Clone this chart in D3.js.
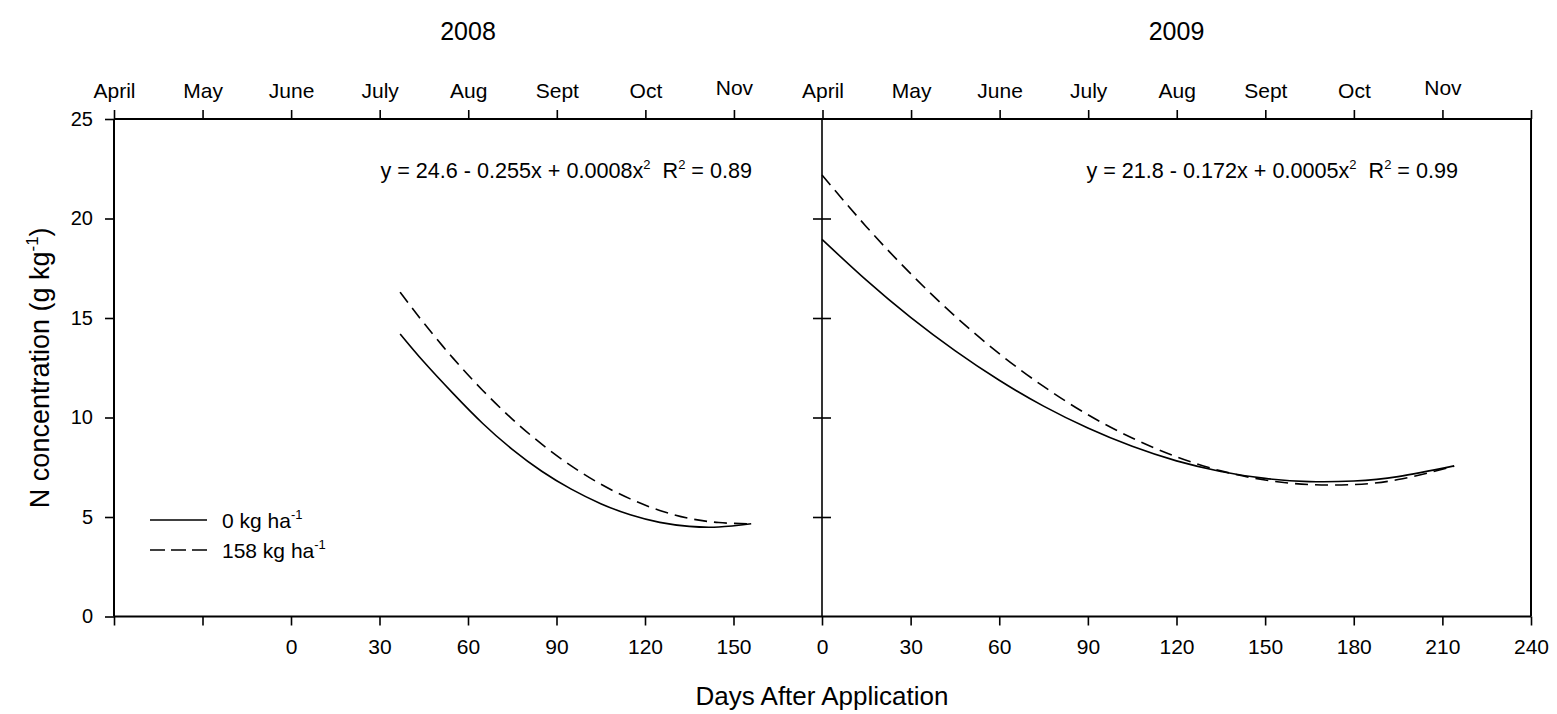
<!DOCTYPE html>
<html>
<head>
<meta charset="utf-8">
<script src="https://cdn.jsdelivr.net/npm/d3@7"></script>
<style>
  body { margin: 0; background: #fff; }
  svg { display: block; font-family: "Liberation Sans", Arial, sans-serif; }
</style>
</head>
<body>
<script>
// month labels across the top (two seasons)
const months = ["April", "May", "June", "July", "Aug", "Sept", "Oct", "Nov",
                "April", "May", "June", "July", "Aug", "Sept", "Oct", "Nov"];
const dayTicks2008 = [-60, -30, 0, 30, 60, 90, 120, 150];
const dayTicks2009 = [0, 30, 60, 90, 120, 150, 180, 210, 240];
const yTicks = [0, 5, 10, 15, 20, 25];

// 2008 fitted curves (days after application, g/kg)
const days2008   = [37, 45, 55, 65, 75, 85, 95, 105, 115, 125, 135, 145, 156];
const zero2008   = [14.2, 12.8, 11.2, 9.7, 8.4, 7.3, 6.4, 5.67, 5.11, 4.73, 4.53, 4.5, 4.66];
const high2008   = [16.3, 14.75, 12.97, 11.36, 9.92, 8.66, 7.57, 6.65, 5.91, 5.33, 4.93, 4.72, 4.66];

// 2009 fitted curves
const days2009   = [0, 15, 30, 45, 60, 75, 90, 105, 120, 135, 150, 165, 180, 195, 214];
const zero2009   = [18.95, 16.9, 15.03, 13.36, 11.87, 10.57, 9.47, 8.55, 7.82, 7.29, 6.94, 6.78, 6.81, 7.03, 7.57];
const high2009   = [22.19, 19.59, 17.23, 15.1, 13.21, 11.56, 10.14, 8.97, 8.03, 7.32, 6.86, 6.63, 6.63, 6.88, 7.55];

(function() {
    const width = 1557, height = 714;
    const xLeft = 114, xMid = 822, xRight = 1531, yTop = 119, yBottom = 616.5;
    const fs = 21;

    const svg = d3.select("body").append("svg")
        .attr("width", width)
        .attr("height", height);

    const xL = d3.scaleLinear().domain([-60, 180]).range([xLeft, xMid]);
    const xR = d3.scaleLinear().domain([0, 240]).range([xMid, xRight]);
    const y = d3.scaleLinear().domain([0, 25]).range([yBottom, yTop]);
    const mScale = d3.scaleLinear().domain([0, 16]).range([xLeft, xRight]);

    function styleAxis(g) {
        g.select(".domain").remove();
        g.selectAll(".tick line").attr("stroke", "#000").attr("stroke-width", 1.6);
        g.selectAll(".tick text")
            .attr("fill", "#000")
            .style("font-size", fs + "px")
            .style("font-family", '"Liberation Sans", Arial, sans-serif');
    }

    // top month axis
    svg.append("g")
        .attr("transform", `translate(0,${yTop})`)
        .call(d3.axisTop(mScale).tickValues(d3.range(17)).tickSize(9).tickPadding(12)
            .tickFormat(i => months[i] || ""))
        .call(styleAxis)
        .call(g => g.selectAll(".tick text").attr("dy", i => months[i] === "Nov" ? "-3" : "0"));

    // bottom axes
    svg.append("g")
        .attr("transform", `translate(0,${yBottom})`)
        .call(d3.axisBottom(xL).tickValues(dayTicks2008).tickSize(9).tickPadding(14)
            .tickFormat(d => d >= 0 ? d : ""))
        .call(styleAxis);

    svg.append("g")
        .attr("transform", `translate(0,${yBottom})`)
        .call(d3.axisBottom(xR).tickValues(dayTicks2009).tickSize(9).tickPadding(14))
        .call(styleAxis);

    // left y axis
    svg.append("g")
        .attr("transform", `translate(${xLeft},0)`)
        .call(d3.axisLeft(y).tickValues(yTicks).tickSize(9).tickPadding(12))
        .call(styleAxis)
        .call(g => g.selectAll(".tick text").style("font-size", "20px"));

    // middle axis ticks cross the divider
    const midTicks = yTicks.filter(v => v > 0 && v < 25);
    svg.append("g")
        .attr("transform", `translate(${xMid},0)`)
        .call(d3.axisLeft(y).tickValues(midTicks).tickSize(9).tickFormat(""))
        .call(styleAxis);
    svg.append("g")
        .attr("transform", `translate(${xMid},0)`)
        .call(d3.axisRight(y).tickValues(midTicks).tickSize(9).tickFormat(""))
        .call(styleAxis);

    // frame
    const frame = svg.append("g").attr("stroke", "#000").attr("fill", "none");
    frame.append("line").attr("x1", xLeft).attr("x2", xRight).attr("y1", yTop).attr("y2", yTop).attr("stroke-width", 2);
    frame.append("line").attr("x1", xLeft).attr("x2", xRight).attr("y1", yBottom).attr("y2", yBottom).attr("stroke-width", 2);
    frame.append("line").attr("x1", xLeft).attr("x2", xLeft).attr("y1", yTop).attr("y2", yBottom).attr("stroke-width", 2);
    frame.append("line").attr("x1", xRight).attr("x2", xRight).attr("y1", yTop).attr("y2", yBottom).attr("stroke-width", 2);
    frame.append("line").attr("x1", xMid).attr("x2", xMid).attr("y1", yTop).attr("y2", yBottom).attr("stroke-width", 1.6);

    // curves
    function drawCurve(xs, days, vals, dashed) {
        const pts = days.map((d, i) => [d, vals[i]]);
        const line = d3.line()
            .x(d => xs(d[0]))
            .y(d => y(d[1]))
            .curve(d3.curveNatural);
        svg.append("path")
            .datum(pts)
            .attr("d", line)
            .attr("fill", "none")
            .attr("stroke", "#000")
            .attr("stroke-width", 1.6)
            .attr("stroke-dasharray", dashed ? "13,7" : null);
    }
    drawCurve(xL, days2008, zero2008, false);
    drawCurve(xL, days2008, high2008, true);
    drawCurve(xR, days2009, zero2009, false);
    drawCurve(xR, days2009, high2009, true);

    // equations
    function equation(xEnd, parts) {
        const t = svg.append("text")
            .attr("x", xEnd)
            .attr("y", 178)
            .attr("text-anchor", "end")
            .style("font-size", "21.6px")
            .attr("fill", "#000");
        parts.forEach(p => {
            if (p.sup) {
                t.append("tspan").attr("dy", -9).style("font-size", "13px").text(p.sup);
                t.append("tspan").attr("dy", 9).text(p.after || "");
            } else {
                t.append("tspan").text(p.text);
            }
        });
    }
    equation(xMid - 70, [
        { text: "y = 24.6 - 0.255x + 0.0008x" }, { sup: "2", after: "\u00a0\u00a0R" },
        { sup: "2", after: " = 0.89" }
    ]);
    equation(xRight - 73, [
        { text: "y = 21.8 - 0.172x + 0.0005x" }, { sup: "2", after: "\u00a0\u00a0R" },
        { sup: "2", after: " = 0.99" }
    ]);

    // titles
    svg.append("text").attr("x", (xLeft + xMid) / 2).attr("y", 40)
        .attr("text-anchor", "middle").style("font-size", "25px").text("2008");
    svg.append("text").attr("x", (xMid + xRight) / 2).attr("y", 40)
        .attr("text-anchor", "middle").style("font-size", "25px").text("2009");

    // axis titles
    const yl = svg.append("text")
        .attr("transform", `translate(49,${(yTop + yBottom) / 2}) rotate(-90)`)
        .attr("text-anchor", "middle")
        .style("font-size", "27px");
    yl.append("tspan").text("N concentration (g kg");
    yl.append("tspan").attr("dy", -11).style("font-size", "17px").text("-1");
    yl.append("tspan").attr("dy", 11).text(")");

    svg.append("text").attr("x", xMid).attr("y", 705)
        .attr("text-anchor", "middle").style("font-size", "26px").text("Days After Application");

    // legend
    const legendItems = [
        { label: "0 kg ha", dashed: false, y: 520 },
        { label: "158 kg ha", dashed: true, y: 550 }
    ];
    legendItems.forEach(item => {
        svg.append("line")
            .attr("x1", 150).attr("x2", 207)
            .attr("y1", item.y).attr("y2", item.y)
            .attr("stroke", "#000").attr("stroke-width", 1.6)
            .attr("stroke-dasharray", item.dashed ? "15,6" : null);
        const t = svg.append("text")
            .attr("x", 222).attr("y", item.y + 8)
            .style("font-size", fs + "px");
        t.append("tspan").text(item.label);
        t.append("tspan").attr("dy", -9).style("font-size", "13px").text("-1");
    });
})();
</script>
</body>
</html>
